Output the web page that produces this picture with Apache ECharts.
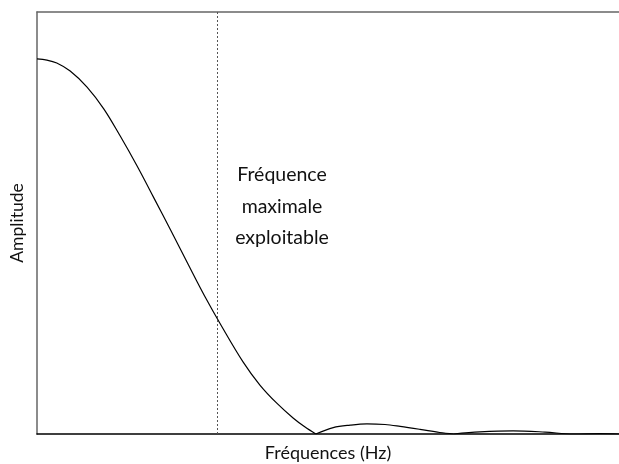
<!DOCTYPE html>
<html>
<head>
<meta charset="utf-8">
<script src="https://cdn.jsdelivr.net/npm/echarts@6/dist/echarts.min.js"></script>
<style>
  html, body { margin: 0; padding: 0; background: #fff; }
  #chart { width: 619px; height: 464px; }
</style>
</head>
<body>
<div id="chart"></div>
<script>
// lobe principal : fréquence (0..100) / amplitude (0..100)
var freqLobe1 = [0, 1.7, 3.4, 5.7, 8.6, 11.5, 14.3, 17.2, 20.1, 23.0, 25.9, 28.8, 31.7, 35.4, 38.3, 41.2, 44.0, 46.0, 47.9];
var ampLobe1  = [88.9, 88.6, 87.9, 86.0, 82.2, 77.0, 70.6, 63.5, 55.9, 48.2, 40.4, 32.7, 25.6, 17.1, 11.6, 7.3, 3.8, 1.7, 0];
// lobes secondaires
var freqLobe2 = [47.9, 50.9, 53.8, 56.7, 59.8, 62.4, 65.8, 69.2, 71.6];
var ampLobe2  = [0, 1.5, 2.1, 2.4, 2.25, 1.8, 1.1, 0.35, 0];
var freqLobe3 = [71.6, 76.1, 81.8, 87.3, 92.1, 96.7, 100];
var ampLobe3  = [0, 0.5, 0.75, 0.45, 0, 0.1, 0];

var fmax = 30.9;
var annotation = ['Fréquence', 'maximale', 'exploitable'];

function pairs(xs, ys) {
    return xs.map(function (x, i) { return [x, ys[i]]; });
}
function lobe(xs, ys) {
    return {
        type: 'line',
        data: pairs(xs, ys),
        smooth: 0.35,
        showSymbol: false,
        lineStyle: { color: '#000', width: 1.2 }
    };
}

var main = lobe(freqLobe1, ampLobe1);
main.markLine = {
    silent: true,
    symbol: 'none',
    label: { show: false },
    lineStyle: { color: '#555', type: [2, 2], width: 1 },
    data: [{ xAxis: fmax }]
};

var chart = echarts.init(document.getElementById('chart'));
chart.setOption({
    animation: false,
    grid: { left: 37, right: 0, top: 12, bottom: 30, outerBoundsMode: 'none' },
    xAxis: [{
        type: 'value', min: 0, max: 100,
        name: 'Fréquences (Hz)', nameLocation: 'middle', nameGap: 10,
        nameTextStyle: { fontFamily: 'Lato', fontSize: 18, color: '#111' },
        axisLine: { show: true, lineStyle: { color: '#000', width: 1.5 } },
        axisTick: { show: false }, axisLabel: { show: false }, splitLine: { show: false }
    }, {
        type: 'value', min: 0, max: 100, position: 'top',
        axisLine: { show: true, lineStyle: { color: '#666', width: 1.5 } },
        axisTick: { show: false }, axisLabel: { show: false }, splitLine: { show: false }
    }],
    yAxis: {
        type: 'value', min: 0, max: 100,
        name: 'Amplitude', nameLocation: 'middle', nameGap: 11,
        nameTextStyle: { fontFamily: 'Lato', fontSize: 17.5, color: '#111' },
        axisLine: { show: true, lineStyle: { color: '#666', width: 1.5 } },
        axisTick: { show: false }, axisLabel: { show: false }, splitLine: { show: false }
    },
    series: [main, lobe(freqLobe2, ampLobe2), lobe(freqLobe3, ampLobe3)],
    graphic: annotation.map(function (t, i) {
        return {
            type: 'text',
            x: 282, y: 175 + i * 31.5,
            style: {
                text: t, fontFamily: 'Lato', fontSize: 19.5, fill: '#111',
                textAlign: 'center', textVerticalAlign: 'middle'
            }
        };
    })
});
</script>
</body>
</html>
